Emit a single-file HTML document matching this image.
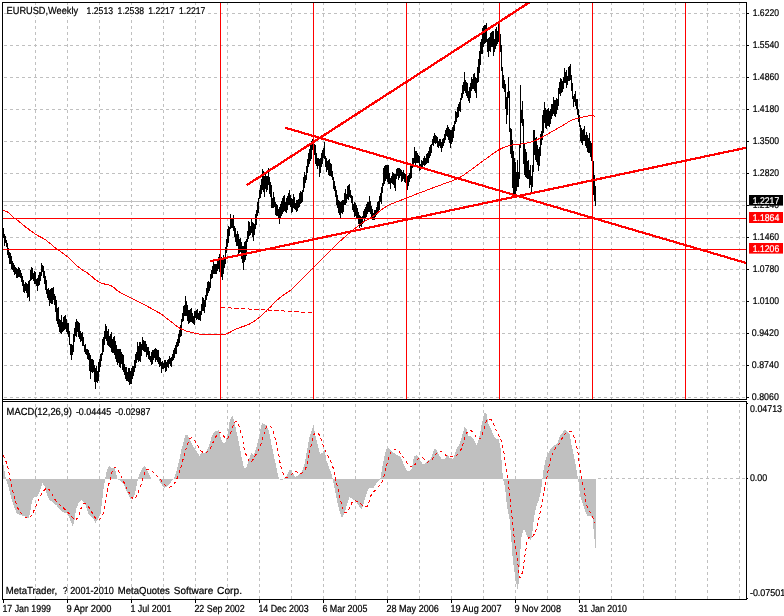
<!DOCTYPE html>
<html lang="en">
<head>
<meta charset="utf-8">
<title>EURUSD, Weekly</title>
<style>
html,body{margin:0;padding:0;background:#ffffff;}
body{width:784px;height:616px;overflow:hidden;}
svg{display:block;}
</style>
</head>
<body>
<svg width="784" height="616" viewBox="0 0 784 616">
<rect x="0" y="0" width="784" height="616" fill="#ffffff"/>
<g stroke="#c0c0c0" stroke-width="1" stroke-dasharray="3 3" fill="none" shape-rendering="crispEdges">
<path d="M35.5 2V399M67.5 2V399M99.5 2V399M131.5 2V399M163.5 2V399M195.5 2V399M227.5 2V399M259.5 2V399M291.5 2V399M323.5 2V399M355.5 2V399M387.5 2V399M419.5 2V399M451.5 2V399M483.5 2V399M515.5 2V399M547.5 2V399M579.5 2V399M611.5 2V399M643.5 2V399M675.5 2V399M707.5 2V399M739.5 2V399M4 13.5H746M4 45.5H746M4 77.5H746M4 109.5H746M4 141.5H746M4 173.5H746M4 205.5H746M4 237.5H746M4 269.5H746M4 301.5H746M4 333.5H746M4 365.5H746M4 397.5H746"/>
<path d="M35.5 404V599M67.5 404V599M99.5 404V599M131.5 404V599M163.5 404V599M195.5 404V599M227.5 404V599M259.5 404V599M291.5 404V599M323.5 404V599M355.5 404V599M387.5 404V599M419.5 404V599M451.5 404V599M483.5 404V599M515.5 404V599M547.5 404V599M579.5 404V599M611.5 404V599M643.5 404V599M675.5 404V599M707.5 404V599M739.5 404V599"/>
<path d="M598 478.5H746"/>
</g>
<rect x="3" y="201" width="743" height="1" fill="#c0c0c0"/>
<path d="M3 478.5L3 464.9L4 464.9L4 470.8L5 470.8L5 477.2L6 477.2L6 480.7L7 480.7L7 483.5L8 483.5L8 486.7L9 486.7L9 490.8L10 490.8L10 494.9L11 494.9L11 498.9L12 498.9L12 501.9L13 501.9L13 504.8L14 504.8L14 507.8L15 507.8L15 510.3L16 510.3L16 512.6L17 512.6L17 514.1L18 514.1L18 514.3L19 514.3L19 514.6L20 514.6L20 514.8L21 514.8L21 515.1L22 515.1L22 515.5L23 515.5L23 515.8L24 515.8L24 516.2L25 516.2L25 516.7L26 516.7L26 517.2L27 517.2L27 517.7L28 517.7L28 518.2L29 518.2L29 514.5L30 514.5L30 509.8L31 509.8L31 503.6L32 503.6L32 500.2L33 500.2L33 497.8L34 497.8L34 497.4L35 497.4L35 497.0L36 497.0L36 496.6L37 496.6L37 496.1L38 496.1L38 494.0L39 494.0L39 491.6L40 491.6L40 488.8L41 488.8L41 485.5L42 485.5L42 482.8L43 482.8L43 484.6L44 484.6L44 486.4L45 486.4L45 489.2L46 489.2L46 492.6L47 492.6L47 495.8L48 495.8L48 498.2L49 498.2L49 499.8L50 499.8L50 500.5L51 500.5L51 501.3L52 501.3L52 502.0L53 502.0L53 502.8L54 502.8L54 503.7L55 503.7L55 504.5L56 504.5L56 505.3L57 505.3L57 506.5L58 506.5L58 507.7L59 507.7L59 508.9L60 508.9L60 510.1L61 510.1L61 510.8L62 510.8L62 511.5L63 511.5L63 512.3L64 512.3L64 512.6L65 512.6L65 512.9L66 512.9L66 513.2L67 513.2L67 514.5L68 514.5L68 516.4L69 516.4L69 518.4L70 518.4L70 520.9L71 520.9L71 523.4L72 523.4L72 525.8L73 525.8L73 523.8L74 523.8L74 520.0L75 520.0L75 512.9L76 512.9L76 508.4L77 508.4L77 505.8L78 505.8L78 503.4L79 503.4L79 502.4L80 502.4L80 501.3L81 501.3L81 500.3L82 500.3L82 501.1L83 501.1L83 502.1L84 502.1L84 503.1L85 503.1L85 505.1L86 505.1L86 507.8L87 507.8L87 510.6L88 510.6L88 513.5L89 513.5L89 515.3L90 515.3L90 516.1L91 516.1L91 517.0L92 517.0L92 517.8L93 517.8L93 519.2L94 519.2L94 521.1L95 521.1L95 523.0L96 523.0L96 521.4L97 521.4L97 519.8L98 519.8L98 518.1L99 518.1L99 516.4L100 516.4L100 514.1L101 514.1L101 505.9L102 505.9L102 497.5L103 497.5L103 488.8L104 488.8L104 482.8L105 482.8L105 477.4L106 477.4L106 472.1L107 472.1L107 469.0L108 469.0L108 467.4L109 467.4L109 466.1L110 466.1L110 466.8L111 466.8L111 467.5L112 467.5L112 468.3L113 468.3L113 467.5L114 467.5L114 467.5L115 467.5L115 471.4L116 471.4L116 475.4L117 475.4L117 478.7L118 478.7L118 479.5L119 479.5L119 480.2L120 480.2L120 481.0L121 481.0L121 481.8L122 481.8L122 482.6L123 482.6L123 483.8L124 483.8L124 486.3L125 486.3L125 488.9L126 488.9L126 491.4L127 491.4L127 493.4L128 493.4L128 495.4L129 495.4L129 497.4L130 497.4L130 498.6L131 498.6L131 499.4L132 499.4L132 499.4L133 499.4L133 497.2L134 497.2L134 495.1L135 495.1L135 490.6L136 490.6L136 485.6L137 485.6L137 480.9L138 480.9L138 477.1L139 477.1L139 474.3L140 474.3L140 471.6L141 471.6L141 470.0L142 470.0L142 468.4L143 468.4L143 467.3L144 467.3L144 466.4L145 466.4L145 467.2L146 467.2L146 468.8L147 468.8L147 470.7L148 470.7L148 473.0L149 473.0L149 475.2L150 475.2L150 477.4L151 477.4L151 478.5L152 478.5L152 478.5L153 478.5L153 478.5L154 478.5L154 478.5L155 478.5L155 478.5L156 478.5L156 478.5L157 478.5L157 478.5L158 478.5L158 478.7L159 478.7L159 480.7L160 480.7L160 482.7L161 482.7L161 484.3L162 484.3L162 485.8L163 485.8L163 487.3L164 487.3L164 487.9L165 487.9L165 487.2L166 487.2L166 486.5L167 486.5L167 485.5L168 485.5L168 484.5L169 484.5L169 483.5L170 483.5L170 482.5L171 482.5L171 481.3L172 481.3L172 480.2L173 480.2L173 479.0L174 479.0L174 476.8L175 476.8L175 474.0L176 474.0L176 471.0L177 471.0L177 467.1L178 467.1L178 463.2L179 463.2L179 458.7L180 458.7L180 453.9L181 453.9L181 449.4L182 449.4L182 445.5L183 445.5L183 441.6L184 441.6L184 438.3L185 438.3L185 435.2L186 435.2L186 434.6L187 434.6L187 435.0L188 435.0L188 436.8L189 436.8L189 439.1L190 439.1L190 441.3L191 441.3L191 443.0L192 443.0L192 444.8L193 444.8L193 446.5L194 446.5L194 448.0L195 448.0L195 449.6L196 449.6L196 451.1L197 451.1L197 452.6L198 452.6L198 454.0L199 454.0L199 455.5L200 455.5L200 454.3L201 454.3L201 453.1L202 453.1L202 453.0L203 453.0L203 453.0L204 453.0L204 453.0L205 453.0L205 452.1L206 452.1L206 450.7L207 450.7L207 449.2L208 449.2L208 447.2L209 447.2L209 443.9L210 443.9L210 440.6L211 440.6L211 437.4L212 437.4L212 435.0L213 435.0L213 432.7L214 432.7L214 431.6L215 431.6L215 431.3L216 431.3L216 430.9L217 430.9L217 430.6L218 430.6L218 430.3L219 430.3L219 433.0L220 433.0L220 437.0L221 437.0L221 439.6L222 439.6L222 442.2L223 442.2L223 443.1L224 443.1L224 442.7L225 442.7L225 441.6L226 441.6L226 437.7L227 437.7L227 433.9L228 433.9L228 428.5L229 428.5L229 422.4L230 422.4L230 419.4L231 419.4L231 417.3L232 417.3L232 416.1L233 416.1L233 418.9L234 418.9L234 422.2L235 422.2L235 426.9L236 426.9L236 431.7L237 431.7L237 436.3L238 436.3L238 440.9L239 440.9L239 445.8L240 445.8L240 451.4L241 451.4L241 457.0L242 457.0L242 461.4L243 461.4L243 465.7L244 465.7L244 468.1L245 468.1L245 467.7L246 467.7L246 467.3L247 467.3L247 464.1L248 464.1L248 460.8L249 460.8L249 457.7L250 457.7L250 454.6L251 454.6L251 453.0L252 453.0L252 453.9L253 453.9L253 454.8L254 454.8L254 453.3L255 453.3L255 450.2L256 450.2L256 447.0L257 447.0L257 443.1L258 443.1L258 439.2L259 439.2L259 434.4L260 434.4L260 429.4L261 429.4L261 425.1L262 425.1L262 423.2L263 423.2L263 423.7L264 423.7L264 424.1L265 424.1L265 424.8L266 424.8L266 425.4L267 425.4L267 427.5L268 427.5L268 430.4L269 430.4L269 433.6L270 433.6L270 439.1L271 439.1L271 444.5L272 444.5L272 449.3L273 449.3L273 453.9L274 453.9L274 458.5L275 458.5L275 463.3L276 463.3L276 468.1L277 468.1L277 472.5L278 472.5L278 476.8L279 476.8L279 478.9L280 478.9L280 479.6L281 479.6L281 480.3L282 480.3L282 479.7L283 479.7L283 479.0L284 479.0L284 478.0L285 478.0L285 476.8L286 476.8L286 475.5L287 475.5L287 473.5L288 473.5L288 471.6L289 471.6L289 470.4L290 470.4L290 470.0L291 470.0L291 470.9L292 470.9L292 472.8L293 472.8L293 474.4L294 474.4L294 475.8L295 475.8L295 477.1L296 477.1L296 476.4L297 476.4L297 475.6L298 475.6L298 474.9L299 474.9L299 474.0L300 474.0L300 472.9L301 472.9L301 471.9L302 471.9L302 469.9L303 469.9L303 467.0L304 467.0L304 464.1L305 464.1L305 458.6L306 458.6L306 453.2L307 453.2L307 447.7L308 447.7L308 442.1L309 442.1L309 436.8L310 436.8L310 434.1L311 434.1L311 431.4L312 431.4L312 428.3L313 428.3L313 424.9L314 424.9L314 431.0L315 431.0L315 436.3L316 436.3L316 440.2L317 440.2L317 444.1L318 444.1L318 448.2L319 448.2L319 452.3L320 452.3L320 454.0L321 454.0L321 453.3L322 453.3L322 452.6L323 452.6L323 451.4L324 451.4L324 450.3L325 450.3L325 455.2L326 455.2L326 460.8L327 460.8L327 463.4L328 463.4L328 466.0L329 466.0L329 468.7L330 468.7L330 471.4L331 471.4L331 474.3L332 474.3L332 477.8L333 477.8L333 482.5L334 482.5L334 487.6L335 487.6L335 492.9L336 492.9L336 498.3L337 498.3L337 503.2L338 503.2L338 507.1L339 507.1L339 511.0L340 511.0L340 513.9L341 513.9L341 516.6L342 516.6L342 517.0L343 517.0L343 515.1L344 515.1L344 513.1L345 513.1L345 509.7L346 509.7L346 506.3L347 506.3L347 502.9L348 502.9L348 499.7L349 499.7L349 496.8L350 496.8L350 497.5L351 497.5L351 498.3L352 498.3L352 499.0L353 499.0L353 499.5L354 499.5L354 499.8L355 499.8L355 500.6L356 500.6L356 502.1L357 502.1L357 503.6L358 503.6L358 505.0L359 505.0L359 506.5L360 506.5L360 507.9L361 507.9L361 509.4L362 509.4L362 506.7L363 506.7L363 503.5L364 503.5L364 500.3L365 500.3L365 496.9L366 496.9L366 493.5L367 493.5L367 491.4L368 491.4L368 489.3L369 489.3L369 488.2L370 488.2L370 488.2L371 488.2L371 488.2L372 488.2L372 488.2L373 488.2L373 487.5L374 487.5L374 486.0L375 486.0L375 484.5L376 484.5L376 483.1L377 483.1L377 481.9L378 481.9L378 480.7L379 480.7L379 479.6L380 479.6L380 477.9L381 477.9L381 471.7L382 471.7L382 466.0L383 466.0L383 460.7L384 460.7L384 455.5L385 455.5L385 452.1L386 452.1L386 448.7L387 448.7L387 447.7L388 447.7L388 448.4L389 448.4L389 449.1L390 449.1L390 450.1L391 450.1L391 451.0L392 451.0L392 452.0L393 452.0L393 452.7L394 452.7L394 453.3L395 453.3L395 453.9L396 453.9L396 454.6L397 454.6L397 455.2L398 455.2L398 455.8L399 455.8L399 456.3L400 456.3L400 456.9L401 456.9L401 458.8L402 458.8L402 461.3L403 461.3L403 463.8L404 463.8L404 466.1L405 466.1L405 468.2L406 468.2L406 470.2L407 470.2L407 470.5L408 470.5L408 470.8L409 470.8L409 470.6L410 470.6L410 469.8L411 469.8L411 468.9L412 468.9L412 464.9L413 464.9L413 458.8L414 458.8L414 456.0L415 456.0L415 455.5L416 455.5L416 455.0L417 455.0L417 455.5L418 455.5L418 457.4L419 457.4L419 459.4L420 459.4L420 460.9L421 460.9L421 462.4L422 462.4L422 463.9L423 463.9L423 464.1L424 464.1L424 463.5L425 463.5L425 462.9L426 462.9L426 462.2L427 462.2L427 461.4L428 461.4L428 460.4L429 460.4L429 459.5L430 459.5L430 458.5L431 458.5L431 456.6L432 456.6L432 453.9L433 453.9L433 451.2L434 451.2L434 449.1L435 449.1L435 449.4L436 449.4L436 449.7L437 449.7L437 451.6L438 451.6L438 453.9L439 453.9L439 455.9L440 455.9L440 457.3L441 457.3L441 458.7L442 458.7L442 458.8L443 458.8L443 458.8L444 458.8L444 458.8L445 458.8L445 457.8L446 457.8L446 456.1L447 456.1L447 455.0L448 455.0L448 456.3L449 456.3L449 457.6L450 457.6L450 458.3L451 458.3L451 458.8L452 458.8L452 459.3L453 459.3L453 458.3L454 458.3L454 455.0L455 455.0L455 451.7L456 451.7L456 448.7L457 448.7L457 447.2L458 447.2L458 445.7L459 445.7L459 444.2L460 444.2L460 441.0L461 441.0L461 437.6L462 437.6L462 434.1L463 434.1L463 430.5L464 430.5L464 426.9L465 426.9L465 427.8L466 427.8L466 429.0L467 429.0L467 432.6L468 432.6L468 436.3L469 436.3L469 436.4L470 436.4L470 436.1L471 436.1L471 436.6L472 436.6L472 437.9L473 437.9L473 439.2L474 439.2L474 441.0L475 441.0L475 442.8L476 442.8L476 444.5L477 444.5L477 442.6L478 442.6L478 439.6L479 439.6L479 436.0L480 436.0L480 430.5L481 430.5L481 425.0L482 425.0L482 420.8L483 420.8L483 416.7L484 416.7L484 413.4L485 413.4L485 412.8L486 412.8L486 413.9L487 413.9L487 419.2L488 419.2L488 423.5L489 423.5L489 425.6L490 425.6L490 427.6L491 427.6L491 430.1L492 430.1L492 432.7L493 432.7L493 435.0L494 435.0L494 436.7L495 436.7L495 438.4L496 438.4L496 438.6L497 438.6L497 438.9L498 438.9L498 439.1L499 439.1L499 442.7L500 442.7L500 448.4L501 448.4L501 459.7L502 459.7L502 472.6L503 472.6L503 480.9L504 480.9L504 484.9L505 484.9L505 491.9L506 491.9L506 501.5L507 501.5L507 508.7L508 508.7L508 513.5L509 513.5L509 518.9L510 518.9L510 530.1L511 530.1L511 542.4L512 542.4L512 555.9L513 555.9L513 564.6L514 564.6L514 572.0L515 572.0L515 578.6L516 578.6L516 583.8L517 583.8L517 589.1L518 589.1L518 583.9L519 583.9L519 567.2L520 567.2L520 549.2L521 549.2L521 536.9L522 536.9L522 533.1L523 533.1L523 530.2L524 530.2L524 529.5L525 529.5L525 532.2L526 532.2L526 534.9L527 534.9L527 536.5L528 536.5L528 538.2L529 538.2L529 539.4L530 539.4L530 540.2L531 540.2L531 537.5L532 537.5L532 531.4L533 531.4L533 521.8L534 521.8L534 514.9L535 514.9L535 510.1L536 510.1L536 505.8L537 505.8L537 503.2L538 503.2L538 500.6L539 500.6L539 496.8L540 496.8L540 492.5L541 492.5L541 487.0L542 487.0L542 477.7L543 477.7L543 470.1L544 470.1L544 464.5L545 464.5L545 459.9L546 459.9L546 457.3L547 457.3L547 454.7L548 454.7L548 452.7L549 452.7L549 451.1L550 451.1L550 449.4L551 449.4L551 447.8L552 447.8L552 446.8L553 446.8L553 446.1L554 446.1L554 445.3L555 445.3L555 444.6L556 444.6L556 444.0L557 444.0L557 443.4L558 443.4L558 440.2L559 440.2L559 436.8L560 436.8L560 434.8L561 434.8L561 434.1L562 434.1L562 433.3L563 433.3L563 431.4L564 431.4L564 429.6L565 429.6L565 430.2L566 430.2L566 431.1L567 431.1L567 432.0L568 432.0L568 432.7L569 432.7L569 433.5L570 433.5L570 439.1L571 439.1L571 444.6L572 444.6L572 449.1L573 449.1L573 453.7L574 453.7L574 458.8L575 458.8L575 464.2L576 464.2L576 469.8L577 469.8L577 475.6L578 475.6L578 482.1L579 482.1L579 489.3L580 489.3L580 496.8L581 496.8L581 500.1L582 500.1L582 503.4L583 503.4L583 506.3L584 506.3L584 509.0L585 509.0L585 511.7L586 511.7L586 513.9L587 513.9L587 516.2L588 516.2L588 516.4L589 516.4L589 515.8L590 515.8L590 515.7L591 515.7L591 517.0L592 517.0L592 518.3L593 518.3L593 528.6L594 528.6L594 538.8L595 538.8L595 547.9L596 547.9L596 478.5Z" fill="#c0c0c0" stroke="none" shape-rendering="crispEdges"/>
<path d="M3.0 455.3L3.5 456.3L4.2 457.6L5.0 459.2L5.8 460.9L6.5 462.7L7.0 464.3L7.4 466.1L7.9 467.9L8.3 469.8L8.6 471.6L9.0 473.3L9.4 475.6L9.8 477.8L10.2 480.0L10.6 482.2L11.0 484.1L11.5 486.1L12.0 488.0L12.5 490.0L13.0 492.0L13.5 494.0L14.0 496.0L14.4 498.0L14.9 499.9L15.5 501.8L16.0 503.3L16.5 504.8L17.1 506.2L17.6 507.6L18.2 508.8L18.8 510.0L19.5 511.2L20.3 512.3L21.1 513.2L22.0 514.1L22.9 514.9L23.8 515.7L24.7 516.5L25.7 517.3L26.7 517.9L27.7 518.2L28.6 518.2L29.3 517.8L30.1 517.2L30.8 516.3L31.4 515.3L32.1 514.1L32.8 512.9L33.5 511.6L34.1 510.4L34.7 509.0L35.3 507.6L36.0 506.1L36.6 504.5L37.2 503.0L37.8 501.5L38.4 500.2L39.1 498.7L39.8 497.3L40.5 495.9L41.3 494.5L42.0 493.3L42.6 492.1L43.3 491.2L44.4 489.9L45.4 489.0L46.4 488.4L47.3 488.3L48.1 488.7L48.9 489.5L49.7 490.6L50.6 492.0L51.2 493.0L51.9 494.1L52.5 495.3L53.3 496.6L54.0 497.9L54.7 499.1L55.5 500.2L56.3 501.1L57.1 502.0L57.9 502.8L58.7 503.6L59.5 504.3L60.4 505.1L61.2 505.9L62.0 506.7L62.9 507.6L63.7 508.4L64.5 509.2L65.3 510.0L66.1 510.8L66.9 511.6L67.8 512.5L68.7 513.3L69.5 514.2L70.3 515.0L71.1 515.8L71.8 516.5L72.7 517.7L73.5 519.0L74.3 520.0L75.1 520.3L75.9 519.9L76.8 518.9L77.6 517.7L78.5 516.3L79.2 514.9L79.8 513.4L80.2 511.6L80.7 509.8L81.1 508.1L81.6 506.7L82.3 505.4L83.1 504.3L84.0 503.7L84.9 503.5L85.7 503.8L86.5 504.5L87.3 505.4L88.2 506.5L89.0 507.6L89.7 508.5L90.3 509.6L91.0 510.7L91.7 511.8L92.3 513.0L93.0 514.0L93.8 515.3L94.6 516.7L95.4 518.0L96.2 519.0L97.1 519.5L98.1 519.6L99.1 519.4L100.1 518.8L101.1 517.8L102.0 516.5L102.6 515.3L103.1 513.8L103.6 512.1L104.0 510.2L104.5 508.3L104.9 506.3L105.3 504.3L105.7 502.2L106.1 499.9L106.4 497.6L106.8 495.2L107.1 492.9L107.5 490.7L107.8 488.8L108.3 486.5L108.8 484.4L109.2 482.6L109.7 480.8L110.2 479.0L110.7 477.0L111.2 475.0L111.7 473.1L112.2 471.4L112.7 470.0L113.5 468.5L114.2 467.7L115.1 467.6L115.9 468.0L116.8 468.8L117.7 469.8L118.4 470.8L119.3 472.5L120.0 474.3L120.7 475.5L121.5 476.7L122.4 478.4L122.9 479.5L123.4 480.8L123.9 482.2L124.5 483.7L125.1 485.1L125.7 486.5L126.3 487.8L127.0 489.1L127.7 490.3L128.4 491.6L129.1 492.8L129.8 493.9L130.5 495.1L131.2 496.3L131.9 497.5L132.6 498.5L133.3 499.3L133.9 499.6L134.8 499.2L135.5 498.0L136.3 496.4L137.1 494.7L137.7 493.5L138.2 492.2L138.8 490.8L139.4 489.3L139.9 487.9L140.4 486.5L141.0 484.9L141.5 483.2L141.9 481.6L142.4 480.0L142.9 478.4L143.5 476.4L144.1 474.3L144.6 472.4L145.3 471.0L146.3 469.9L147.5 469.5L148.6 469.4L149.6 469.6L150.7 470.2L151.8 471.0L152.5 471.6L153.3 472.4L154.2 473.3L155.0 474.2L155.9 475.1L156.7 475.9L157.5 476.7L158.4 477.5L159.2 478.3L160.0 479.2L160.8 480.0L161.7 481.0L162.5 482.1L163.3 483.1L164.1 484.1L164.9 484.9L165.9 485.8L166.9 486.6L168.0 487.1L169.0 487.3L170.0 487.1L171.1 486.7L172.1 485.9L173.1 484.9L173.8 484.1L174.5 483.2L175.2 482.1L175.8 481.0L176.5 479.7L177.1 478.4L177.7 477.0L178.3 475.4L178.8 473.8L179.3 472.1L179.9 470.4L180.4 468.6L180.9 467.0L181.3 465.4L181.8 463.8L182.3 462.1L182.8 460.4L183.2 458.8L183.7 457.1L184.2 455.4L184.6 453.7L185.1 452.0L185.5 450.3L186.0 448.7L186.4 447.1L186.9 445.7L187.6 443.8L188.2 442.1L188.9 440.5L189.5 439.3L190.2 438.4L191.3 437.9L192.3 438.2L193.5 439.2L194.1 440.0L194.8 441.0L195.5 442.1L196.2 443.4L196.9 444.6L197.6 445.7L198.4 447.0L199.2 448.2L200.0 449.5L200.8 450.5L201.6 451.4L202.6 452.2L203.6 452.8L204.7 453.1L205.7 453.0L206.5 452.6L207.3 452.0L208.2 451.2L209.0 450.2L209.8 449.0L210.5 447.9L211.2 446.5L211.9 445.1L212.5 443.6L213.2 442.2L213.9 440.8L214.6 439.4L215.3 438.0L216.0 436.6L216.6 435.4L217.3 434.3L218.0 433.5L219.0 432.9L220.0 432.7L221.0 432.9L222.0 433.5L222.8 434.4L223.6 435.9L224.5 437.4L225.3 438.6L226.1 439.2L226.9 439.0L227.8 438.2L228.6 437.1L229.4 435.8L230.2 434.3L230.8 432.9L231.4 431.2L231.9 429.3L232.5 427.5L233.0 425.8L233.5 424.5L234.4 422.6L235.3 421.5L236.2 421.2L237.0 421.8L237.8 423.1L238.5 424.6L239.2 426.1L239.8 428.0L240.3 430.0L240.8 432.0L241.3 433.8L241.9 435.7L242.4 438.0L242.7 439.9L243.0 442.0L243.3 444.3L243.7 446.5L244.1 448.6L244.5 450.2L245.1 451.9L245.6 453.5L246.2 455.0L246.7 456.4L247.3 457.6L248.1 459.3L248.9 460.9L249.7 462.0L250.6 462.4L251.4 462.0L252.2 461.0L253.0 459.6L253.9 458.1L254.7 456.7L255.4 455.6L256.1 454.4L256.8 453.2L257.5 452.0L258.2 450.7L258.8 449.4L259.5 447.8L260.2 446.2L260.8 444.6L261.4 442.9L262.0 441.2L262.5 439.4L263.0 437.5L263.5 435.7L264.0 433.9L264.5 432.2L265.1 430.6L265.7 429.0L266.4 427.5L267.1 426.4L267.8 425.7L268.8 425.5L269.8 425.9L270.8 426.9L271.8 428.2L272.4 429.4L273.0 430.7L273.5 432.3L274.0 434.1L274.6 436.0L275.1 438.0L275.5 439.6L275.9 441.4L276.4 443.2L276.8 445.1L277.2 447.0L277.6 449.0L278.0 450.9L278.4 452.7L278.8 454.8L279.1 456.9L279.5 459.0L279.8 461.1L280.1 463.0L280.5 464.9L280.8 466.5L281.4 468.9L282.1 470.8L282.7 472.5L283.3 473.9L284.1 475.6L284.8 476.8L285.7 477.5L286.7 477.5L287.9 477.0L289.0 476.3L289.8 475.8L290.6 475.2L291.4 474.5L292.2 473.9L293.0 473.2L293.8 472.4L294.6 471.7L295.5 471.4L296.5 471.7L297.6 472.4L298.6 473.2L299.6 473.6L300.8 473.5L301.8 473.1L302.9 472.2L303.7 471.4L304.5 470.4L305.4 469.1L306.1 467.3L306.6 465.8L307.0 463.9L307.4 461.9L307.8 459.8L308.2 457.8L308.6 455.9L309.1 453.9L309.6 451.9L310.0 450.0L310.5 448.1L311.0 446.1L311.4 444.3L311.8 442.4L312.2 440.4L312.6 438.5L313.0 436.9L313.5 435.5L314.2 434.0L315.0 432.9L315.9 432.3L316.7 432.2L317.5 432.6L318.3 433.4L319.2 434.7L320.0 436.3L320.5 437.6L321.1 439.2L321.6 440.9L322.1 442.7L322.7 444.5L323.3 446.1L323.9 447.6L324.6 449.0L325.3 450.4L326.0 451.8L326.7 453.1L327.3 454.3L328.0 455.7L328.7 456.9L329.3 458.2L330.0 459.4L330.6 460.8L331.2 462.3L331.8 463.9L332.4 465.5L332.9 467.2L333.4 469.0L333.9 470.9L334.3 472.8L334.7 474.8L335.1 476.8L335.5 478.8L336.0 480.7L336.5 482.6L337.0 484.6L337.5 486.5L338.0 488.6L338.4 490.4L338.8 492.4L339.2 494.4L339.6 496.3L340.0 498.2L340.4 500.0L340.9 502.0L341.4 504.0L341.8 505.9L342.4 507.6L342.9 509.0L343.6 510.6L344.4 511.9L345.3 512.8L346.1 513.1L346.9 512.5L347.7 511.3L348.6 509.8L349.4 508.2L350.1 506.9L350.7 505.4L351.4 503.9L352.0 502.6L352.7 501.6L353.7 500.8L354.8 500.6L355.9 500.8L356.9 501.2L357.9 501.8L359.0 502.6L360.0 503.3L360.8 503.9L361.6 504.6L362.5 505.3L363.3 505.8L364.1 506.2L365.1 506.5L366.1 506.7L367.1 506.5L368.0 505.7L368.6 504.4L369.0 502.5L369.4 500.3L369.9 498.2L370.6 496.3L371.2 495.3L371.8 494.3L372.5 493.3L373.3 492.4L374.1 491.5L374.9 490.7L375.6 489.8L376.3 489.0L377.2 488.0L378.1 487.0L379.0 486.1L379.8 485.2L380.5 484.3L381.2 483.3L382.0 481.8L382.6 480.3L383.1 478.6L383.7 476.7L384.2 475.0L384.6 473.0L385.1 471.0L385.6 469.0L386.1 466.9L386.6 465.1L387.1 463.3L387.7 461.4L388.3 459.6L388.8 457.8L389.4 456.3L390.0 454.6L390.7 453.1L391.3 451.7L392.0 450.6L392.7 449.8L393.6 449.2L394.6 449.1L395.7 449.4L396.7 449.8L397.5 450.3L398.3 451.1L399.2 451.9L400.0 452.9L400.8 453.9L401.6 454.9L402.4 456.1L403.3 457.2L404.1 458.4L404.9 459.6L405.6 460.6L406.3 461.7L407.0 462.7L407.7 463.7L408.4 464.6L409.0 465.3L410.1 466.3L411.2 466.9L412.2 466.9L413.0 466.5L413.8 465.8L414.7 464.8L415.5 463.7L416.1 462.6L416.8 461.3L417.4 460.0L418.1 458.8L418.8 458.0L419.8 457.5L420.8 457.4L421.9 457.6L422.9 458.0L423.7 458.6L424.5 459.6L425.2 460.7L426.0 461.5L426.9 462.0L427.8 462.0L428.8 461.7L429.9 461.1L430.9 460.4L431.8 459.6L432.7 458.6L433.5 457.4L434.3 456.1L435.1 454.9L435.9 453.9L436.7 453.1L437.5 452.3L438.3 451.6L439.1 451.2L440.0 451.1L440.8 451.4L441.6 451.9L442.4 452.6L443.3 453.4L444.1 454.1L444.9 454.7L446.0 455.3L446.9 455.7L447.9 456.1L449.0 456.3L450.2 456.5L451.4 456.6L452.7 456.5L453.9 456.3L455.0 456.0L456.0 455.5L457.0 454.9L458.0 453.9L458.7 453.1L459.4 452.2L460.0 451.2L460.7 450.0L461.4 448.7L462.0 447.3L462.5 445.9L463.0 444.2L463.5 442.4L463.9 440.6L464.4 438.8L464.8 437.2L465.3 435.9L466.1 434.1L466.9 432.7L467.7 431.7L468.6 431.0L469.6 430.7L470.6 430.7L471.7 431.1L472.7 431.8L473.5 432.7L474.3 434.0L475.1 435.4L475.9 436.7L476.7 437.6L477.8 438.3L478.8 438.8L479.9 438.9L480.8 438.4L481.5 437.2L482.1 435.4L482.7 433.2L483.3 431.0L483.8 429.4L484.3 427.6L484.8 425.8L485.3 424.0L485.9 422.4L486.5 421.2L487.5 420.0L488.5 419.3L489.6 419.1L490.6 419.3L491.3 419.8L492.0 420.7L492.6 421.9L493.3 423.2L493.9 424.5L494.5 426.0L495.2 427.7L495.8 429.5L496.5 431.2L497.1 432.7L497.8 433.9L498.5 435.0L499.1 436.0L499.8 437.1L500.4 438.4L501.0 439.9L501.5 441.5L501.9 443.2L502.4 445.1L502.9 447.3L503.3 449.1L503.6 451.1L504.0 453.2L504.3 455.4L504.6 457.6L505.0 459.8L505.3 462.0L505.7 464.5L506.0 467.0L506.4 469.5L506.7 471.9L507.1 474.3L507.4 476.7L507.7 479.0L508.0 481.3L508.3 483.5L508.6 485.7L508.9 487.8L509.1 489.8L509.4 492.4L509.7 494.7L509.9 497.0L510.2 499.8L510.4 502.0L510.7 504.3L511.0 506.8L511.2 509.3L511.5 511.9L511.8 514.5L512.0 516.8L512.3 519.1L512.5 521.5L512.8 524.0L513.0 526.3L513.3 528.6L513.5 530.8L513.8 533.7L514.1 536.4L514.5 538.9L514.8 541.4L515.1 543.9L515.4 546.3L515.7 548.5L516.1 550.7L516.4 552.9L516.7 555.3L517.0 557.4L517.3 559.7L517.6 562.0L517.9 564.3L518.2 566.4L518.4 568.4L518.7 572.1L518.8 575.3L519.2 577.3L519.9 577.7L520.8 576.8L521.6 574.9L522.1 573.2L522.5 571.1L523.0 568.6L523.4 566.0L523.8 563.5L524.1 561.4L524.4 559.2L524.7 557.0L525.0 554.8L525.4 552.6L525.7 550.4L526.1 548.2L526.4 545.8L526.8 543.5L527.2 541.4L527.7 539.6L528.2 538.2L529.1 537.3L530.1 537.5L531.2 537.8L532.2 537.3L532.9 536.4L533.6 535.2L534.3 533.8L535.0 532.3L535.7 530.7L536.3 529.2L536.9 527.4L537.4 525.6L537.9 523.6L538.3 521.6L538.8 519.4L539.2 517.4L539.6 515.2L540.0 512.9L540.4 510.7L540.8 508.4L541.2 506.3L541.6 503.9L542.1 501.6L542.5 499.3L542.9 497.1L543.3 494.9L543.7 492.8L544.1 490.8L544.5 488.8L544.9 486.9L545.3 484.9L545.7 483.0L546.1 481.0L546.5 479.1L546.9 477.2L547.3 475.1L547.7 472.9L548.1 470.5L548.5 468.1L549.0 465.8L549.4 463.7L549.8 461.8L550.3 460.1L550.8 458.5L551.3 457.0L551.8 455.5L552.4 454.1L553.1 452.7L553.7 451.3L554.4 450.1L555.1 449.0L555.9 447.8L556.8 446.9L557.6 446.0L558.4 444.9L559.0 443.8L559.7 442.7L560.3 441.5L561.0 440.3L561.6 439.2L562.4 437.9L563.2 436.5L564.1 435.3L564.9 434.3L565.7 433.4L566.6 432.7L567.4 432.2L568.2 431.8L569.3 431.3L570.3 431.2L571.4 431.8L572.1 432.7L572.7 434.0L573.4 435.6L574.1 437.3L574.7 439.2L575.2 440.8L575.7 442.6L576.2 444.4L576.7 446.4L577.2 448.5L577.6 450.6L578.0 452.9L578.3 455.4L578.7 457.9L579.0 460.5L579.3 463.0L579.6 465.3L579.9 467.8L580.2 470.2L580.6 472.4L580.9 474.6L581.2 476.7L581.6 478.9L582.0 481.0L582.4 483.1L582.8 485.0L583.2 486.5L583.9 488.0L584.5 490.0L584.8 492.1L585.0 494.8L585.3 497.8L585.7 500.6L586.1 503.1L586.7 505.1L587.3 506.8L588.0 508.4L588.7 509.8L589.4 511.2L590.1 512.5L590.8 513.6L591.5 514.7L592.1 515.8L592.7 516.9L593.4 519.0L593.9 521.2L594.3 522.7" fill="none" stroke="#ff0000" stroke-width="1" stroke-dasharray="3 3" shape-rendering="crispEdges"/>
<path d="M3.5 227.8V238.0M4.5 234.0V246.0M5.5 236.2V243.2M6.5 240.0V247.3M7.5 243.0V255.0M8.5 248.2V257.5M9.5 252.0V264.0M10.5 253.3V264.3M11.5 255.5V268.6M12.5 261.3V269.6M13.5 263.3V272.0M14.5 265.0V275.0M15.5 266.5V274.2M16.5 268.0V278.0M17.5 269.4V277.5M18.5 267.0V277.0M19.5 268.3V277.4M20.5 270.0V278.0M21.5 273.3V281.7M22.5 276.4V286.3M23.5 280.0V292.0M24.5 284.4V293.3M25.5 282.2V290.7M26.5 283.4V292.5M27.5 284.0V298.0M28.5 281.0V297.4M29.5 280.0V301.0M30.5 270.2V281.0M31.5 267.0V280.0M32.5 268.0V279.0M33.5 272.8V280.9M34.5 271.2V283.7M35.5 272.0V284.0M36.5 278.6V285.8M37.5 278.0V291.4M38.5 275.0V286.4M39.5 272.0V285.0M40.5 272.2V280.6M41.5 262.9V276.0M42.5 264.5V271.6M43.5 266.0V278.0M44.5 271.3V284.0M45.5 276.0V290.0M46.5 280.4V293.9M47.5 289.3V298.2M48.5 287.9V299.9M49.5 290.0V306.0M50.5 289.0V303.0M51.5 288.4V303.7M52.5 288.0V304.0M53.5 286.5V300.0M54.5 294.4V305.3M55.5 296.0V312.0M56.5 300.0V321.0M57.5 308.3V323.9M58.5 307.2V326.8M59.5 318.5V331.8M60.5 320.2V332.6M61.5 314.5V334.0M62.5 321.7V332.1M63.5 316.5V330.9M64.5 315.5V329.6M65.5 315.0V329.0M66.5 318.6V332.4M67.5 322.8V334.3M68.5 322.6V337.0M69.5 331.4V345.0M70.5 344.0V355.2M71.5 344.0V360.0M72.5 344.5V355.2M73.5 334.0V352.0M74.5 328.0V341.5M75.5 322.0V336.0M76.5 319.0V337.0M77.5 320.8V332.4M78.5 322.0V337.3M79.5 322.6V339.0M80.5 330.9V341.8M81.5 332.5V340.6M82.5 332.4V345.5M83.5 337.3V345.9M84.5 345.0V352.1M85.5 344.0V353.7M86.5 349.4V354.9M87.5 349.0V358.7M88.5 350.0V360.0M89.5 353.0V371.0M90.5 355.0V379.0M91.5 358.9V372.4M92.5 359.2V372.5M93.5 360.0V371.6M94.5 365.0V381.9M95.5 368.0V389.0M96.5 365.6V382.4M97.5 370.7V382.9M98.5 362.0V381.4M99.5 358.9V371.9M100.5 353.7V366.7M101.5 352.7V360.9M102.5 339.0V355.0M103.5 336.9V351.5M104.5 330.6V344.5M105.5 324.3V339.0M106.5 325.6V340.6M107.5 330.7V344.9M108.5 329.0V345.5M109.5 336.0V347.2M110.5 334.3V348.4M111.5 332.4V352.0M112.5 338.8V352.8M113.5 336.6V353.1M114.5 335.7V355.0M115.5 340.5V358.5M116.5 344.7V361.7M117.5 348.8V365.0M118.5 349.3V363.0M119.5 349.0V367.0M120.5 348.8V368.4M121.5 351.8V364.2M122.5 353.7V369.6M123.5 355.3V371.6M124.5 363.9V375.0M125.5 367.4V378.5M126.5 366.7V380.6M127.5 371.7V381.3M128.5 367.6V381.9M129.5 368.1V384.6M130.5 370.5V384.3M131.5 368.4V383.9M132.5 366.0V378.6M133.5 365.6V376.1M134.5 360.0V371.6M135.5 354.1V367.7M136.5 352.3V362.9M137.5 342.2V360.0M138.5 346.1V361.9M139.5 342.1V361.2M140.5 342.0V362.0M141.5 344.0V355.9M142.5 337.3V350.4M143.5 340.2V351.0M144.5 340.6V352.3M145.5 340.6V352.0M146.5 344.1V356.5M147.5 347.4V355.0M148.5 347.0V358.6M149.5 350.7V360.4M150.5 355.5V362.4M151.5 352.0V365.0M152.5 349.7V364.1M153.5 349.9V359.8M154.5 348.6V357.5M155.5 348.0V361.8M156.5 349.1V359.5M157.5 349.8V362.0M158.5 350.4V363.5M159.5 357.4V366.7M160.5 357.9V366.3M161.5 361.8V373.3M162.5 361.3V369.4M163.5 362.7V369.2M164.5 360.3V367.5M165.5 360.0V371.6M166.5 361.9V371.0M167.5 359.5V366.8M168.5 358.6V368.4M169.5 355.6V363.5M170.5 357.8V366.4M171.5 357.0V366.7M172.5 354.1V360.6M173.5 350.4V360.0M174.5 348.4V358.3M175.5 345.4V353.8M176.5 342.2V353.7M177.5 338.5V346.7M178.5 334.0V345.5M179.5 329.9V343.3M180.5 325.2V336.7M181.5 319.4V335.7M182.5 312.6V322.2M183.5 305.5V321.0M184.5 304.6V315.5M185.5 296.2V316.0M186.5 300.5V315.7M187.5 304.7V320.5M188.5 309.6V323.5M189.5 310.0V323.0M190.5 308.7V322.2M191.5 308.0V321.8M192.5 313.4V322.5M193.5 316.0V323.6M194.5 311.2V325.0M195.5 310.6V318.1M196.5 309.7V319.7M197.5 308.8V319.4M198.5 312.9V320.0M199.5 310.9V320.3M200.5 311.2V321.0M201.5 303.5V314.9M202.5 297.3V311.2M203.5 298.4V311.4M204.5 299.8V312.9M205.5 294.7V306.9M206.5 288.0V299.8M207.5 281.5V296.3M208.5 280.7V293.4M209.5 281.6V290.6M210.5 273.5V288.0M211.5 269.7V279.4M212.5 266.2V278.2M213.5 262.0V273.5M214.5 264.3V273.7M215.5 264.2V274.1M216.5 263.7V274.3M217.5 261.3V271.4M218.5 257.4V268.8M219.5 253.9V271.8M220.5 255.5V270.4M221.5 257.0V276.6M222.5 258.8V280.0M223.5 255.0V274.2M224.5 257.6V267.8M225.5 247.3V263.7M226.5 239.2V252.5M227.5 229.4V247.3M228.5 226.4V243.1M229.5 226.6V236.3M230.5 214.4V229.4M231.5 218.4V227.7M232.5 217.7V228.3M233.5 214.7V231.0M234.5 226.4V236.6M235.5 227.8V242.4M236.5 233.8V246.1M237.5 230.8V245.5M238.5 233.5V253.9M239.5 238.6V253.0M240.5 237.6V252.2M241.5 241.5V258.9M242.5 246.3V262.6M243.5 245.7V270.2M244.5 242.0V262.1M245.5 241.4V259.9M246.5 239.2V255.5M247.5 230.6V242.3M248.5 221.2V239.2M249.5 222.1V236.0M250.5 225.7V234.6M251.5 218.0V232.7M252.5 222.1V236.9M253.5 222.9V240.8M254.5 224.0V235.0M255.5 213.9V228.6M256.5 209.8V224.5M257.5 202.3V215.9M258.5 198.4V213.0M259.5 190.3V199.0M260.5 185.3V198.4M261.5 178.5V194.1M262.5 169.0V190.2M263.5 171.1V192.3M264.5 175.5V196.7M265.5 173.8V188.9M266.5 176.3V191.8M267.5 175.5V189.5M268.5 168.2V185.3M269.5 176.6V193.9M270.5 182.4V196.5M271.5 185.3V208.2M272.5 197.7V208.1M273.5 191.8V208.0M274.5 197.3V207.3M275.5 201.6V215.0M276.5 203.8V215.9M277.5 204.6V216.4M278.5 208.5V219.2M279.5 207.0V223.7M280.5 204.0V218.6M281.5 201.4V216.4M282.5 198.0V214.0M283.5 196.1V211.5M284.5 195.1V211.4M285.5 201.7V212.3M286.5 198.4V213.0M287.5 195.7V210.3M288.5 192.9V205.2M289.5 190.2V204.9M290.5 195.1V206.5M291.5 198.4V213.0M292.5 198.6V211.6M293.5 193.5V208.2M294.5 197.1V209.0M295.5 202.5V210.4M296.5 200.0V212.2M297.5 200.3V210.8M298.5 199.3V207.7M299.5 192.7V206.5M300.5 190.8V204.1M301.5 192.2V202.6M302.5 190.2V201.6M303.5 177.1V191.8M304.5 172.4V188.0M305.5 175.1V183.3M306.5 165.7V180.4M307.5 158.8V173.1M308.5 152.7V167.3M309.5 149.0V163.5M310.5 143.9V160.9M311.5 141.2V159.2M312.5 139.4V149.9M313.5 135.5V152.7M314.5 144.3V154.7M315.5 144.5V164.1M316.5 153.4V166.2M317.5 157.6V169.0M318.5 158.3V166.2M319.5 159.2V177.1M320.5 158.1V173.0M321.5 152.7V167.3M322.5 150.2V164.2M323.5 147.7V158.3M324.5 142.0V159.2M325.5 155.7V166.8M326.5 157.6V172.2M327.5 161.4V169.9M328.5 160.0V174.8M329.5 159.2V175.5M330.5 162.6V176.4M331.5 164.0V177.0M332.5 171.1V179.8M333.5 177.1V188.6M334.5 181.1V191.0M335.5 185.8V196.5M336.5 190.2V205.0M337.5 195.0V208.3M338.5 200.0V213.0M339.5 201.1V214.6M340.5 202.0V217.6M341.5 201.1V213.4M342.5 200.1V213.7M343.5 199.6V211.8M344.5 193.2V205.0M345.5 189.0V205.3M346.5 193.5V203.1M347.5 186.2V199.4M348.5 185.1V200.4M349.5 183.8V197.1M350.5 189.7V197.9M351.5 195.2V203.0M352.5 196.0V210.0M353.5 203.8V212.3M354.5 202.0V216.7M355.5 203.4V216.3M356.5 205.3V218.4M357.5 208.1V217.9M358.5 212.4V223.5M359.5 215.1V228.2M360.5 216.3V226.4M361.5 216.7V226.5M362.5 216.2V223.9M363.5 211.2V219.3M364.5 208.6V221.6M365.5 206.9V219.1M366.5 203.7V216.7M367.5 201.6V214.0M368.5 202.4V211.9M369.5 196.3V211.8M370.5 201.0V213.5M371.5 206.4V218.1M372.5 208.6V220.0M373.5 212.6V220.0M374.5 210.2V220.0M375.5 210.4V216.6M376.5 206.9V215.3M377.5 202.0V213.5M378.5 200.5V211.9M379.5 196.3V210.2M380.5 193.3V202.0M381.5 187.3V203.7M382.5 183.2V193.3M383.5 167.8V185.7M384.5 166.2V183.9M385.5 164.6V181.3M386.5 165.3V179.2M387.5 164.9V182.2M388.5 164.5V184.0M389.5 172.7V183.8M390.5 177.6V189.0M391.5 176.2V182.8M392.5 171.8V184.0M393.5 172.9V185.4M394.5 174.2V187.9M395.5 174.3V190.6M396.5 168.6V179.2M397.5 168.4V175.7M398.5 168.1V180.0M399.5 167.8V177.6M400.5 168.9V176.2M401.5 170.2V182.4M402.5 172.3V181.1M403.5 169.7V179.3M404.5 172.7V182.4M405.5 174.1V183.4M406.5 174.5V186.5M407.5 175.9V189.8M408.5 174.6V186.2M409.5 172.7V182.4M410.5 166.3V179.4M411.5 164.5V177.6M412.5 158.3V168.3M413.5 158.1V166.4M414.5 147.3V162.9M415.5 151.4V165.1M416.5 151.4V162.9M417.5 153.0V163.0M418.5 154.7V163.3M419.5 156.3V171.0M420.5 163.5V170.4M421.5 159.9V168.5M422.5 161.2V169.4M423.5 158.2V164.6M424.5 155.5V166.0M425.5 158.3V165.0M426.5 154.1V164.3M427.5 153.2V163.4M428.5 151.4V162.9M429.5 147.3V158.0M430.5 144.9V156.3M431.5 143.5V152.8M432.5 138.7V144.8M433.5 135.9V146.4M434.5 132.7V143.3M435.5 135.2V143.5M436.5 135.9V143.4M437.5 136.7V146.5M438.5 141.1V147.7M439.5 139.3V145.5M440.5 139.2V148.0M441.5 141.6V152.2M442.5 139.3V148.2M443.5 137.9V145.5M444.5 133.5V143.3M445.5 129.8V139.9M446.5 127.8V135.7M447.5 124.5V136.7M448.5 126.7V139.5M449.5 128.5V142.8M450.5 130.2V148.2M451.5 129.9V144.2M452.5 126.9V141.6M453.5 125.3V138.4M454.5 120.9V130.6M455.5 110.6V123.7M456.5 112.1V121.6M457.5 106.5V118.3M458.5 104.1V117.1M459.5 102.4V110.6M460.5 97.6V112.2M461.5 92.7V100.4M462.5 85.0V98.0M463.5 82.1V93.9M464.5 71.8V91.4M465.5 79.9V93.0M466.5 81.6V96.3M467.5 82.8V97.9M468.5 90.7V100.6M469.5 86.5V103.0M470.5 83.1V97.5M471.5 76.7V91.4M472.5 79.1V89.1M473.5 74.0V88.6M474.5 72.7V91.4M475.5 77.0V92.7M476.5 78.4V98.0M477.5 66.8V82.6M478.5 58.8V81.6M479.5 51.2V72.7M480.5 42.4V65.3M481.5 39.2V54.0M482.5 27.8V53.9M483.5 26.4V47.0M484.5 25.3V44.1M485.5 25.3V43.0M486.5 22.9V42.4M487.5 39.3V52.0M488.5 37.6V57.1M489.5 37.0V51.0M490.5 32.7V52.2M491.5 32.1V47.4M492.5 31.4V47.1M493.5 31.0V56.3M494.5 38.7V52.0M495.5 29.4V49.0M496.5 27.1V46.0M497.5 31.4V43.7M498.5 23.7V42.4M499.5 31.3V46.2M500.5 34.0V52.0M501.5 45.0V71.0M502.5 67.0V88.0M503.5 75.0V89.0M504.5 80.0V92.0M505.5 84.0V109.0M506.5 97.0V124.0M507.5 92.0V115.0M508.5 77.0V98.0M509.5 91.0V132.0M510.5 128.0V154.0M511.5 129.0V158.0M512.5 140.0V188.0M513.5 151.0V194.0M514.5 158.0V194.0M515.5 162.0V194.0M516.5 172.0V191.0M517.5 160.0V187.0M518.5 172.0V187.0M519.5 145.0V179.0M520.5 85.0V148.0M521.5 110.0V123.0M522.5 101.0V126.0M523.5 119.0V164.0M524.5 144.0V175.0M525.5 149.0V177.0M526.5 152.0V178.0M527.5 161.0V179.0M528.5 160.0V179.0M529.5 170.0V188.0M530.5 165.0V185.0M531.5 176.0V192.0M532.5 165.0V187.0M533.5 130.0V172.0M534.5 130.0V155.0M535.5 138.0V160.0M536.5 137.0V162.0M537.5 145.0V165.0M538.5 149.0V171.0M539.5 147.0V166.0M540.5 134.0V156.0M541.5 131.0V145.0M542.5 115.0V140.0M543.5 110.0V133.0M544.5 102.0V123.0M545.5 108.0V128.0M546.5 110.0V129.0M547.5 109.0V126.0M548.5 108.0V126.0M549.5 111.0V127.0M550.5 109.0V124.0M551.5 104.0V119.0M552.5 104.0V116.0M553.5 97.0V114.0M554.5 100.0V116.0M555.5 100.0V117.0M556.5 98.0V114.0M557.5 99.0V110.0M558.5 88.0V106.0M559.5 82.0V94.0M560.5 77.8V95.7M561.5 79.0V92.9M562.5 81.0V92.4M563.5 76.9V88.8M564.5 68.0V82.7M565.5 72.3V82.7M566.5 69.6V88.4M567.5 75.8V85.1M568.5 67.1V81.0M569.5 66.2V80.6M570.5 63.9V80.2M571.5 74.5V90.8M572.5 83.2V98.8M573.5 95.7V107.1M574.5 93.7V102.1M575.5 90.8V105.5M576.5 99.3V109.0M577.5 99.0V115.3M578.5 108.8V121.6M579.5 115.3V126.7M580.5 125.0V141.4M581.5 127.8V142.5M582.5 130.0V144.7M583.5 128.8V141.0M584.5 126.0V141.4M585.5 135.3V145.5M586.5 132.0V148.4M587.5 135.0V152.0M588.5 137.5V152.5M589.5 133.0V152.9M590.5 140.5V157.3M591.5 143.0V161.0M592.5 154.5V180.6M593.5 161.0V195.3M594.5 174.5V201.1M595.5 185.5V206.0" stroke="#000000" stroke-width="1" fill="none" shape-rendering="crispEdges"/>
<g fill="#ff0000" shape-rendering="crispEdges">
<rect x="220" y="3" width="1" height="396"/>
<rect x="313" y="3" width="1" height="396"/>
<rect x="406" y="3" width="1" height="396"/>
<rect x="499" y="3" width="1" height="396"/>
<rect x="592" y="3" width="1" height="396"/>
<rect x="685" y="3" width="1" height="396"/>
<rect x="3" y="218" width="743" height="1"/>
<rect x="3" y="249" width="743" height="1"/>
</g>
<path d="M3.3 210.2L3.9 210.5L4.9 210.8L5.9 211.3L6.9 211.7L7.8 212.2L8.9 212.9L9.7 213.7L10.6 214.5L11.6 215.5L12.5 216.6L13.5 217.6L14.2 218.0L15.0 218.3L16.3 219.2L16.9 219.7L17.6 220.3L18.4 220.9L19.2 221.6L20.1 222.4L21.0 223.1L21.9 223.9L22.8 224.7L23.7 225.4L24.5 226.1L25.3 226.8L26.2 227.4L27.0 228.1L27.9 228.7L28.8 229.3L29.6 230.0L30.4 230.6L31.2 231.1L32.0 231.7L32.7 232.2L33.8 233.0L34.7 233.6L35.6 234.2L36.5 234.7L37.4 235.3L38.4 235.9L39.2 236.4L40.0 236.8L40.9 237.2L41.7 237.6L42.7 238.1L43.6 238.6L44.6 239.3L45.7 240.0L46.4 240.5L47.1 241.1L47.9 241.7L48.7 242.3L49.5 243.0L50.4 243.7L51.2 244.4L52.1 245.2L52.9 245.9L53.8 246.6L54.6 247.3L55.5 248.0L56.3 248.6L57.1 249.2L57.9 249.8L58.7 250.4L59.6 250.9L60.4 251.5L61.2 252.0L62.0 252.6L62.8 253.2L63.7 253.7L64.5 254.3L65.3 255.0L66.2 255.6L67.0 256.3L67.8 257.0L68.6 257.7L69.4 258.5L70.3 259.3L71.1 260.1L71.9 260.9L72.8 261.7L73.6 262.6L74.4 263.4L75.3 264.2L76.1 264.9L76.9 265.7L77.6 266.4L78.4 267.0L79.3 267.7L80.2 268.4L81.1 269.0L81.9 269.6L82.8 270.1L83.6 270.6L84.4 271.1L85.3 271.7L86.2 272.2L87.1 272.8L88.0 273.5L88.8 274.1L89.6 274.7L90.4 275.3L91.2 276.0L92.0 276.7L92.8 277.4L93.7 278.2L94.5 278.9L95.4 279.5L96.2 280.2L97.1 280.8L97.9 281.4L98.8 281.9L99.6 282.4L100.6 282.9L101.5 283.2L102.5 283.5L103.5 283.8L104.5 284.0L105.5 284.2L106.4 284.4L107.4 284.6L108.3 284.8L109.2 285.0L110.1 285.3L111.0 285.7L111.9 286.2L112.7 286.7L113.4 287.2L114.1 287.8L114.8 288.4L115.6 289.1L116.3 289.7L117.1 290.4L118.0 291.0L118.9 291.7L120.0 292.4L120.7 292.8L121.4 293.2L122.1 293.6L122.8 294.0L123.6 294.3L124.4 294.7L125.2 295.1L126.0 295.5L126.9 295.9L127.7 296.4L128.6 296.8L129.5 297.2L130.4 297.7L131.4 298.1L132.3 298.6L133.3 299.1L134.3 299.6L135.3 300.1L136.3 300.6L137.1 301.0L137.9 301.4L138.7 301.9L139.6 302.3L140.5 302.8L141.4 303.3L142.3 303.7L143.3 304.2L144.3 304.8L145.2 305.3L146.2 305.8L147.2 306.3L148.2 306.8L149.1 307.3L150.1 307.8L151.0 308.3L152.0 308.9L152.9 309.3L153.8 309.8L154.7 310.3L155.5 310.8L156.3 311.2L157.1 311.7L157.8 312.1L158.5 312.5L159.2 312.9L160.5 313.7L161.6 314.4L162.5 315.1L163.4 315.7L164.1 316.3L164.8 316.8L165.5 317.3L166.1 317.9L166.7 318.4L167.4 319.0L168.2 319.6L169.0 320.2L169.8 320.8L170.6 321.4L171.4 322.0L172.2 322.6L173.0 323.2L173.9 323.9L174.7 324.5L175.5 325.2L176.4 325.8L177.2 326.4L178.0 326.9L178.8 327.5L179.6 328.0L180.4 328.4L181.4 328.9L182.3 329.4L183.2 329.8L184.1 330.1L185.0 330.5L185.8 330.8L186.7 331.1L187.6 331.3L188.4 331.6L189.3 331.8L190.2 332.1L191.2 332.4L192.1 332.6L193.1 332.9L194.0 333.1L195.0 333.3L196.0 333.5L196.9 333.7L197.9 333.8L199.0 334.0L200.0 334.1L201.0 334.2L201.9 334.3L202.9 334.3L203.9 334.3L205.0 334.4L206.0 334.4L207.0 334.4L208.1 334.4L209.2 334.4L210.3 334.4L211.4 334.4L212.4 334.4L213.4 334.5L214.4 334.5L215.4 334.6L216.5 334.7L217.5 334.7L218.6 334.8L219.6 334.8L220.7 334.8L221.7 334.8L222.7 334.7L223.7 334.6L224.7 334.4L225.6 334.2L226.5 333.9L227.4 333.5L228.3 333.1L229.1 332.7L230.0 332.2L230.8 331.8L231.7 331.3L232.5 330.8L233.4 330.3L234.3 329.9L235.2 329.4L236.1 329.0L237.0 328.6L237.9 328.3L238.9 327.9L239.8 327.6L240.8 327.3L241.8 326.9L242.8 326.6L243.7 326.3L244.7 325.9L245.6 325.6L246.6 325.2L247.5 324.9L248.4 324.5L249.2 324.1L250.2 323.6L251.2 323.0L252.2 322.5L253.1 321.9L254.0 321.3L254.8 320.7L255.7 320.1L256.5 319.5L257.4 318.9L258.2 318.2L259.0 317.6L259.9 316.9L260.7 316.2L261.4 315.6L262.2 314.9L262.9 314.2L263.7 313.5L264.5 312.7L265.3 312.0L266.2 311.1L267.1 310.2L267.8 309.5L268.5 308.9L269.2 308.1L269.9 307.4L270.7 306.6L271.5 305.8L272.2 305.0L273.0 304.1L273.8 303.3L274.6 302.5L275.5 301.7L276.3 300.9L277.0 300.2L277.8 299.5L278.6 298.8L279.4 298.1L280.3 297.4L281.2 296.8L282.1 296.1L283.0 295.5L283.9 294.8L284.7 294.2L285.6 293.7L286.4 293.1L287.2 292.6L288.0 292.0L288.7 291.5L289.4 291.1L290.0 290.6L291.3 289.6L292.0 288.9L292.6 288.4L293.4 287.6L294.5 286.5L295.1 285.9L295.7 285.3L296.3 284.7L297.0 284.0L297.7 283.3L298.4 282.6L299.2 281.8L300.0 281.0L300.8 280.2L301.7 279.4L302.5 278.5L303.4 277.6L304.3 276.7L305.0 276.0L305.7 275.3L306.4 274.6L307.1 273.9L307.9 273.1L308.6 272.3L309.4 271.5L310.2 270.7L311.0 269.9L311.8 269.1L312.6 268.3L313.4 267.5L314.2 266.7L315.0 265.9L315.8 265.1L316.5 264.4L317.3 263.6L318.0 262.9L318.9 262.0L319.7 261.2L320.5 260.4L321.3 259.6L322.1 258.8L323.0 258.0L323.7 257.2L324.5 256.4L325.3 255.6L326.1 254.8L326.9 254.1L327.7 253.3L328.4 252.5L329.2 251.8L330.0 251.0L330.8 250.2L331.5 249.5L332.2 248.8L332.9 248.1L333.6 247.4L334.3 246.7L335.0 246.0L335.7 245.4L336.4 244.7L337.1 243.9L337.9 243.2L338.7 242.4L339.6 241.7L340.4 240.9L341.4 240.0L342.1 239.4L342.7 238.8L343.5 238.2L344.2 237.5L345.0 236.9L345.8 236.2L346.6 235.5L347.4 234.8L348.2 234.1L349.0 233.4L349.9 232.6L350.7 231.9L351.6 231.2L352.4 230.5L353.2 229.8L354.1 229.1L354.9 228.5L355.7 227.8L356.5 227.2L357.2 226.6L358.0 226.0L358.7 225.4L359.4 224.9L360.4 224.2L361.4 223.5L362.3 222.9L363.2 222.3L364.0 221.7L364.9 221.2L365.7 220.8L366.5 220.3L367.3 219.8L368.1 219.4L368.9 218.9L369.8 218.4L370.6 217.9L371.5 217.3L372.4 216.7L373.2 216.2L373.9 215.6L374.7 215.0L375.5 214.5L376.2 213.9L377.0 213.3L377.8 212.6L378.5 212.0L379.3 211.4L380.1 210.8L380.9 210.2L381.8 209.5L382.6 208.9L383.5 208.3L384.3 207.7L385.2 207.2L386.2 206.6L387.1 206.1L387.9 205.7L388.7 205.3L389.6 204.8L390.4 204.4L391.3 204.0L392.2 203.6L393.1 203.3L394.1 202.9L395.0 202.5L396.0 202.1L396.9 201.8L397.8 201.4L398.8 201.0L399.7 200.7L400.7 200.3L401.6 200.0L402.5 199.6L403.4 199.3L404.2 199.0L405.1 198.6L405.9 198.3L406.7 198.0L407.7 197.6L408.7 197.2L409.7 196.8L410.6 196.4L411.5 196.1L412.4 195.7L413.2 195.4L414.1 195.1L414.9 194.7L415.7 194.4L416.6 194.0L417.5 193.7L418.4 193.3L419.4 193.0L420.4 192.6L421.4 192.2L422.2 191.9L423.0 191.6L423.8 191.3L424.7 191.0L425.6 190.6L426.5 190.3L427.4 190.0L428.3 189.6L429.2 189.3L430.1 188.9L431.1 188.6L432.0 188.2L432.9 187.9L433.9 187.6L434.8 187.2L435.7 186.9L436.6 186.5L437.5 186.2L438.4 185.9L439.3 185.5L440.2 185.2L441.0 184.9L442.0 184.5L442.9 184.2L443.9 183.8L444.8 183.5L445.8 183.2L446.7 182.8L447.7 182.5L448.6 182.2L449.5 181.9L450.4 181.5L451.3 181.2L452.2 180.9L453.1 180.5L453.9 180.2L454.8 179.8L455.6 179.5L456.4 179.1L457.2 178.8L458.0 178.4L459.0 177.9L460.0 177.4L460.9 176.8L461.7 176.3L462.6 175.8L463.4 175.2L464.2 174.7L465.0 174.1L465.7 173.6L466.5 173.0L467.4 172.4L468.2 171.8L469.1 171.1L470.0 170.5L470.8 170.0L471.6 169.4L472.4 168.8L473.2 168.2L474.0 167.6L474.8 167.0L475.7 166.4L476.5 165.7L477.4 165.1L478.2 164.5L479.1 163.8L480.0 163.2L480.8 162.5L481.7 161.9L482.6 161.3L483.4 160.6L484.3 160.0L485.1 159.4L486.0 158.8L486.8 158.2L487.7 157.5L488.6 156.9L489.4 156.3L490.3 155.6L491.2 155.0L492.1 154.4L492.9 153.7L493.8 153.1L494.7 152.5L495.5 152.0L496.3 151.4L497.2 150.9L498.0 150.4L498.7 149.9L499.5 149.5L500.5 149.0L501.5 148.5L502.5 148.0L503.4 147.6L504.3 147.2L505.2 146.9L506.1 146.6L507.0 146.3L507.9 146.1L508.7 145.8L509.5 145.6L510.4 145.4L511.2 145.2L512.2 145.0L513.2 144.8L514.1 144.7L515.1 144.6L516.0 144.6L516.9 144.6L517.8 144.5L518.8 144.4L519.9 144.3L521.0 144.1L521.8 143.9L522.7 143.8L523.5 143.6L524.5 143.4L525.4 143.3L526.3 143.1L527.3 142.8L528.3 142.6L529.3 142.4L530.3 142.1L531.2 141.9L532.2 141.6L533.2 141.3L534.2 140.9L535.1 140.6L536.0 140.2L536.9 139.9L537.7 139.5L538.6 139.0L539.5 138.6L540.4 138.1L541.2 137.7L542.1 137.2L543.0 136.7L543.9 136.2L544.7 135.7L545.6 135.2L546.5 134.7L547.3 134.2L548.2 133.8L549.0 133.3L549.9 132.8L550.8 132.3L551.7 131.8L552.6 131.3L553.5 130.8L554.4 130.3L555.3 129.8L556.2 129.2L557.1 128.7L557.9 128.2L558.8 127.8L559.6 127.3L560.4 126.8L561.2 126.3L562.0 125.9L563.0 125.3L564.0 124.7L564.9 124.1L565.8 123.6L566.7 123.0L567.5 122.5L568.4 122.0L569.2 121.5L570.1 121.0L570.9 120.6L571.8 120.2L572.8 119.8L573.8 119.4L574.8 119.1L575.8 118.8L576.7 118.5L577.7 118.2L578.7 118.0L579.7 117.8L580.7 117.5L581.6 117.3L582.7 117.0L583.7 116.8L584.8 116.6L585.9 116.3L587.0 116.1L588.0 116.0L588.9 115.8L589.8 115.7L590.6 115.6L592.1 115.6L593.2 115.7L594.1 116.0L594.7 116.1" fill="none" stroke="#ff0000" stroke-width="1" shape-rendering="crispEdges"/>
<path d="M220.8 307.4L313.3 312.7" fill="none" stroke="#ff0000" stroke-width="1" stroke-dasharray="4.4 2.3" shape-rendering="crispEdges"/>
<g stroke="#ff0000" stroke-width="2.2" fill="none" stroke-linecap="butt" shape-rendering="crispEdges">
<path d="M246.5 185.3L529 2.6" stroke-width="2.3"/>
<path d="M285.4 127.8L746 262.9"/>
<path d="M210.4 261.2L746 147.8"/>
</g>
<g fill="#000000" shape-rendering="crispEdges">
<rect x="2" y="2" width="745" height="1"/>
<rect x="2" y="2" width="1" height="598"/>
<rect x="746" y="2" width="1" height="398"/>
<rect x="746" y="401" width="1" height="199"/>
<rect x="2" y="399" width="745" height="1"/>
<rect x="2" y="401" width="745" height="1"/>
<rect x="2" y="599" width="745" height="1"/>
<rect x="747" y="13" width="2" height="1"/>
<rect x="747" y="45" width="2" height="1"/>
<rect x="747" y="77" width="2" height="1"/>
<rect x="747" y="109" width="2" height="1"/>
<rect x="747" y="141" width="2" height="1"/>
<rect x="747" y="173" width="2" height="1"/>
<rect x="747" y="205" width="2" height="1"/>
<rect x="747" y="237" width="2" height="1"/>
<rect x="747" y="269" width="2" height="1"/>
<rect x="747" y="301" width="2" height="1"/>
<rect x="747" y="333" width="2" height="1"/>
<rect x="747" y="365" width="2" height="1"/>
<rect x="747" y="397" width="2" height="1"/>
<rect x="747" y="403" width="1" height="1"/>
<rect x="747" y="478" width="1" height="1"/>
<rect x="747" y="598" width="1" height="1"/>
<rect x="3" y="600" width="1" height="3"/>
<rect x="67" y="600" width="1" height="3"/>
<rect x="131" y="600" width="1" height="3"/>
<rect x="195" y="600" width="1" height="3"/>
<rect x="259" y="600" width="1" height="3"/>
<rect x="323" y="600" width="1" height="3"/>
<rect x="387" y="600" width="1" height="3"/>
<rect x="451" y="600" width="1" height="3"/>
<rect x="515" y="600" width="1" height="3"/>
<rect x="579" y="600" width="1" height="3"/>
</g>
<text x="752.7" y="16.0" font-family='"Liberation Sans", sans-serif' font-size="9.80" fill="#000000" stroke="#000000" stroke-width="0.22" style="text-rendering:geometricPrecision" textLength="26.3" lengthAdjust="spacingAndGlyphs">1.6220</text>
<text x="752.7" y="48.0" font-family='"Liberation Sans", sans-serif' font-size="9.80" fill="#000000" stroke="#000000" stroke-width="0.22" style="text-rendering:geometricPrecision" textLength="26.3" lengthAdjust="spacingAndGlyphs">1.5540</text>
<text x="752.7" y="80.0" font-family='"Liberation Sans", sans-serif' font-size="9.80" fill="#000000" stroke="#000000" stroke-width="0.22" style="text-rendering:geometricPrecision" textLength="26.3" lengthAdjust="spacingAndGlyphs">1.4860</text>
<text x="752.7" y="112.0" font-family='"Liberation Sans", sans-serif' font-size="9.80" fill="#000000" stroke="#000000" stroke-width="0.22" style="text-rendering:geometricPrecision" textLength="26.3" lengthAdjust="spacingAndGlyphs">1.4180</text>
<text x="752.7" y="144.0" font-family='"Liberation Sans", sans-serif' font-size="9.80" fill="#000000" stroke="#000000" stroke-width="0.22" style="text-rendering:geometricPrecision" textLength="26.3" lengthAdjust="spacingAndGlyphs">1.3500</text>
<text x="752.7" y="176.0" font-family='"Liberation Sans", sans-serif' font-size="9.80" fill="#000000" stroke="#000000" stroke-width="0.22" style="text-rendering:geometricPrecision" textLength="26.3" lengthAdjust="spacingAndGlyphs">1.2820</text>
<text x="752.7" y="208.0" font-family='"Liberation Sans", sans-serif' font-size="9.80" fill="#000000" stroke="#000000" stroke-width="0.22" style="text-rendering:geometricPrecision" textLength="26.3" lengthAdjust="spacingAndGlyphs">1.2140</text>
<text x="752.7" y="240.0" font-family='"Liberation Sans", sans-serif' font-size="9.80" fill="#000000" stroke="#000000" stroke-width="0.22" style="text-rendering:geometricPrecision" textLength="26.3" lengthAdjust="spacingAndGlyphs">1.1460</text>
<text x="752.7" y="272.0" font-family='"Liberation Sans", sans-serif' font-size="9.80" fill="#000000" stroke="#000000" stroke-width="0.22" style="text-rendering:geometricPrecision" textLength="26.3" lengthAdjust="spacingAndGlyphs">1.0780</text>
<text x="752.7" y="304.0" font-family='"Liberation Sans", sans-serif' font-size="9.80" fill="#000000" stroke="#000000" stroke-width="0.22" style="text-rendering:geometricPrecision" textLength="26.3" lengthAdjust="spacingAndGlyphs">1.0100</text>
<text x="751.8" y="336.0" font-family='"Liberation Sans", sans-serif' font-size="9.80" fill="#000000" stroke="#000000" stroke-width="0.22" style="text-rendering:geometricPrecision" textLength="27.0" lengthAdjust="spacingAndGlyphs">0.9420</text>
<text x="751.8" y="368.0" font-family='"Liberation Sans", sans-serif' font-size="9.80" fill="#000000" stroke="#000000" stroke-width="0.22" style="text-rendering:geometricPrecision" textLength="27.0" lengthAdjust="spacingAndGlyphs">0.8740</text>
<text x="751.8" y="400.0" font-family='"Liberation Sans", sans-serif' font-size="9.80" fill="#000000" stroke="#000000" stroke-width="0.22" style="text-rendering:geometricPrecision" textLength="27.0" lengthAdjust="spacingAndGlyphs">0.8060</text>
<rect x="749" y="195" width="34" height="10.6" fill="#000000"/>
<rect x="749" y="212" width="34" height="11" fill="#ff0000"/>
<rect x="749" y="243" width="34" height="10.6" fill="#ff0000"/>
<text x="752.7" y="204.0" font-family='"Liberation Sans", sans-serif' font-size="9.80" fill="#ffffff" stroke="#ffffff" stroke-width="0.22" style="text-rendering:geometricPrecision" textLength="26.6" lengthAdjust="spacingAndGlyphs">1.2217</text>
<text x="752.7" y="221.0" font-family='"Liberation Sans", sans-serif' font-size="9.80" fill="#ffffff" stroke="#ffffff" stroke-width="0.22" style="text-rendering:geometricPrecision" textLength="26.6" lengthAdjust="spacingAndGlyphs">1.1864</text>
<text x="752.7" y="252.0" font-family='"Liberation Sans", sans-serif' font-size="9.80" fill="#ffffff" stroke="#ffffff" stroke-width="0.22" style="text-rendering:geometricPrecision" textLength="26.6" lengthAdjust="spacingAndGlyphs">1.1206</text>
<text x="750.0" y="412.0" font-family='"Liberation Sans", sans-serif' font-size="9.80" fill="#000000" stroke="#000000" stroke-width="0.22" style="text-rendering:geometricPrecision" textLength="32.0" lengthAdjust="spacingAndGlyphs">0.04713</text>
<text x="749.9" y="481.0" font-family='"Liberation Sans", sans-serif' font-size="9.80" fill="#000000" stroke="#000000" stroke-width="0.22" style="text-rendering:geometricPrecision" textLength="17.3" lengthAdjust="spacingAndGlyphs">0.00</text>
<text x="749.9" y="596.0" font-family='"Liberation Sans", sans-serif' font-size="9.80" fill="#000000" stroke="#000000" stroke-width="0.22" style="text-rendering:geometricPrecision" textLength="35.4" lengthAdjust="spacingAndGlyphs">-0.07501</text>
<rect x="7" y="5" width="200" height="11" fill="#ffffff"/>
<text x="6.6" y="14.0" font-family='"Liberation Sans", sans-serif' font-size="10.20" fill="#000000" stroke="#000000" stroke-width="0.22" style="text-rendering:geometricPrecision" textLength="71.5" lengthAdjust="spacingAndGlyphs">EURUSD,Weekly</text>
<text x="86.6" y="14.0" font-family='"Liberation Sans", sans-serif' font-size="9.80" fill="#000000" stroke="#000000" stroke-width="0.22" style="text-rendering:geometricPrecision" textLength="26.4" lengthAdjust="spacingAndGlyphs">1.2513</text>
<text x="117.6" y="14.0" font-family='"Liberation Sans", sans-serif' font-size="9.80" fill="#000000" stroke="#000000" stroke-width="0.22" style="text-rendering:geometricPrecision" textLength="26.4" lengthAdjust="spacingAndGlyphs">1.2538</text>
<text x="148.2" y="14.0" font-family='"Liberation Sans", sans-serif' font-size="9.80" fill="#000000" stroke="#000000" stroke-width="0.22" style="text-rendering:geometricPrecision" textLength="26.4" lengthAdjust="spacingAndGlyphs">1.2217</text>
<text x="179.0" y="14.0" font-family='"Liberation Sans", sans-serif' font-size="9.80" fill="#000000" stroke="#000000" stroke-width="0.22" style="text-rendering:geometricPrecision" textLength="26.4" lengthAdjust="spacingAndGlyphs">1.2217</text>
<text x="6.6" y="415.0" font-family='"Liberation Sans", sans-serif' font-size="10.20" fill="#000000" stroke="#000000" stroke-width="0.22" style="text-rendering:geometricPrecision" textLength="65.2" lengthAdjust="spacingAndGlyphs">MACD(12,26,9)</text>
<text x="75.9" y="415.0" font-family='"Liberation Sans", sans-serif' font-size="9.80" fill="#000000" stroke="#000000" stroke-width="0.22" style="text-rendering:geometricPrecision" textLength="35.3" lengthAdjust="spacingAndGlyphs">-0.04445</text>
<text x="115.3" y="415.0" font-family='"Liberation Sans", sans-serif' font-size="9.80" fill="#000000" stroke="#000000" stroke-width="0.22" style="text-rendering:geometricPrecision" textLength="35.1" lengthAdjust="spacingAndGlyphs">-0.02987</text>
<text x="5.8" y="594.0" font-family='"Liberation Sans", sans-serif' font-size="10.20" fill="#000000" stroke="#000000" stroke-width="0.22" style="text-rendering:geometricPrecision" textLength="51.3" lengthAdjust="spacingAndGlyphs">MetaTrader,</text>
<text x="62.9" y="594.0" font-family='"Liberation Sans", sans-serif' font-size="10.20" fill="#000000" stroke="#000000" stroke-width="0.22" style="text-rendering:geometricPrecision" textLength="4.6" lengthAdjust="spacingAndGlyphs">?</text>
<text x="70.3" y="594.0" font-family='"Liberation Sans", sans-serif' font-size="10.20" fill="#000000" stroke="#000000" stroke-width="0.22" style="text-rendering:geometricPrecision" textLength="43.6" lengthAdjust="spacingAndGlyphs">2001-2010</text>
<text x="117.8" y="594.0" font-family='"Liberation Sans", sans-serif' font-size="10.20" fill="#000000" stroke="#000000" stroke-width="0.22" style="text-rendering:geometricPrecision" textLength="52.0" lengthAdjust="spacingAndGlyphs">MetaQuotes</text>
<text x="173.8" y="594.0" font-family='"Liberation Sans", sans-serif' font-size="10.20" fill="#000000" stroke="#000000" stroke-width="0.22" style="text-rendering:geometricPrecision" textLength="39.4" lengthAdjust="spacingAndGlyphs">Software</text>
<text x="217.0" y="594.0" font-family='"Liberation Sans", sans-serif' font-size="10.20" fill="#000000" stroke="#000000" stroke-width="0.22" style="text-rendering:geometricPrecision" textLength="25.0" lengthAdjust="spacingAndGlyphs">Corp.</text>
<text x="2.4" y="612.0" font-family='"Liberation Sans", sans-serif' font-size="10.20" fill="#000000" stroke="#000000" stroke-width="0.22" style="text-rendering:geometricPrecision" textLength="48.6" lengthAdjust="spacingAndGlyphs">17 Jan 1999</text>
<text x="66.4" y="612.0" font-family='"Liberation Sans", sans-serif' font-size="10.20" fill="#000000" stroke="#000000" stroke-width="0.22" style="text-rendering:geometricPrecision" textLength="45.1" lengthAdjust="spacingAndGlyphs">9 Apr 2000</text>
<text x="130.4" y="612.0" font-family='"Liberation Sans", sans-serif' font-size="10.20" fill="#000000" stroke="#000000" stroke-width="0.22" style="text-rendering:geometricPrecision" textLength="41.1" lengthAdjust="spacingAndGlyphs">1 Jul 2001</text>
<text x="194.4" y="612.0" font-family='"Liberation Sans", sans-serif' font-size="10.20" fill="#000000" stroke="#000000" stroke-width="0.22" style="text-rendering:geometricPrecision" textLength="50.3" lengthAdjust="spacingAndGlyphs">22 Sep 2002</text>
<text x="258.4" y="612.0" font-family='"Liberation Sans", sans-serif' font-size="10.20" fill="#000000" stroke="#000000" stroke-width="0.22" style="text-rendering:geometricPrecision" textLength="50.3" lengthAdjust="spacingAndGlyphs">14 Dec 2003</text>
<text x="322.4" y="612.0" font-family='"Liberation Sans", sans-serif' font-size="10.20" fill="#000000" stroke="#000000" stroke-width="0.22" style="text-rendering:geometricPrecision" textLength="45.0" lengthAdjust="spacingAndGlyphs">6 Mar 2005</text>
<text x="386.4" y="612.0" font-family='"Liberation Sans", sans-serif' font-size="10.20" fill="#000000" stroke="#000000" stroke-width="0.22" style="text-rendering:geometricPrecision" textLength="52.4" lengthAdjust="spacingAndGlyphs">28 May 2006</text>
<text x="450.4" y="612.0" font-family='"Liberation Sans", sans-serif' font-size="10.20" fill="#000000" stroke="#000000" stroke-width="0.22" style="text-rendering:geometricPrecision" textLength="51.1" lengthAdjust="spacingAndGlyphs">19 Aug 2007</text>
<text x="514.4" y="612.0" font-family='"Liberation Sans", sans-serif' font-size="10.20" fill="#000000" stroke="#000000" stroke-width="0.22" style="text-rendering:geometricPrecision" textLength="46.6" lengthAdjust="spacingAndGlyphs">9 Nov 2008</text>
<text x="578.4" y="612.0" font-family='"Liberation Sans", sans-serif' font-size="10.20" fill="#000000" stroke="#000000" stroke-width="0.22" style="text-rendering:geometricPrecision" textLength="48.6" lengthAdjust="spacingAndGlyphs">31 Jan 2010</text>
</svg>
</body>
</html>
